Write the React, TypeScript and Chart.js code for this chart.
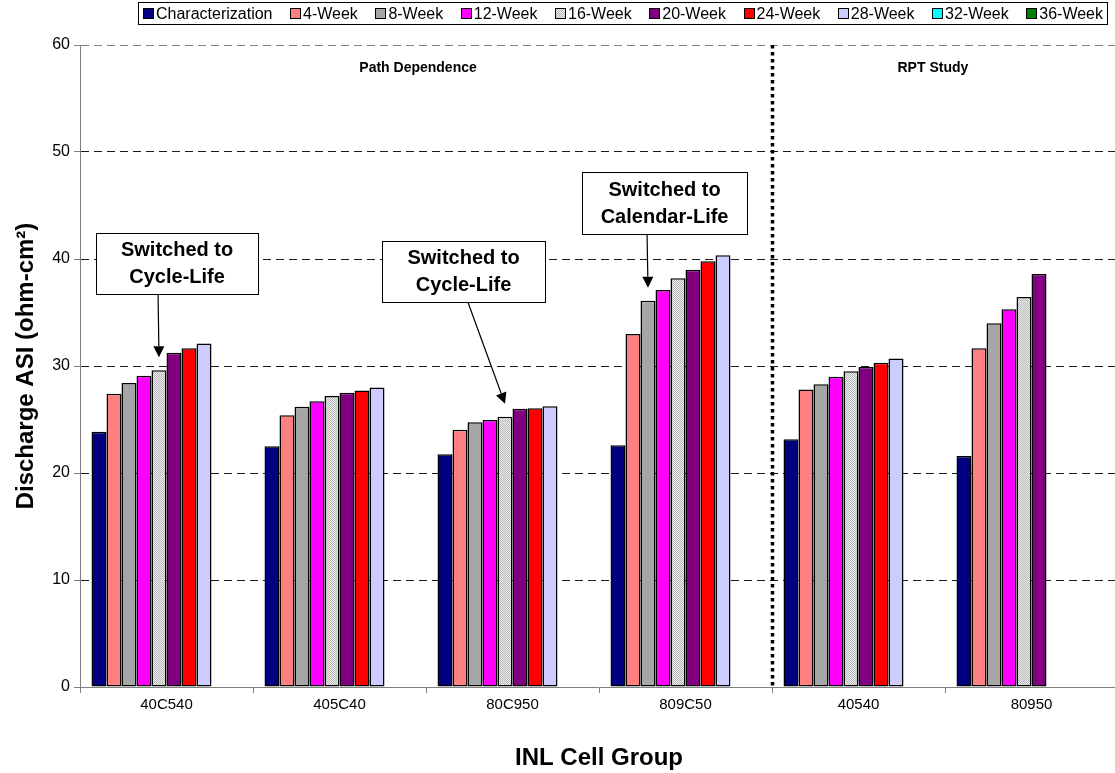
import React, { useEffect, useRef } from "react";
import { Chart, registerables } from "chart.js";

Chart.register(...registerables);

// ---------- data ----------
const categories = ["40C540", "405C40", "80C950", "809C50", "40540", "80950"];
const seriesNames = [
  "Characterization",
  "4-Week",
  "8-Week",
  "12-Week",
  "16-Week",
  "20-Week",
  "24-Week",
  "28-Week",
  "32-Week",
  "36-Week",
];
const characterization = [23.85, 22.5, 21.75, 22.6, 23.15, 21.6];
const week4 = [27.4, 25.4, 24.05, 33.0, 27.8, 31.65];
const week8 = [28.4, 26.2, 24.75, 36.1, 28.3, 34.0];
const week12 = [29.1, 26.7, 24.95, 37.1, 29.0, 35.3];
const week16 = [29.6, 27.2, 25.25, 38.2, 29.5, 36.45];
const week20 = [31.25, 27.5, 26.0, 39.0, 29.9, 38.6];
const week24 = [31.65, 27.7, 26.05, 39.8, 30.3, null];
const week28 = [32.1, 28.0, 26.25, 40.35, 30.7, null];
const week32 = [null, null, null, null, null, null];
const week36 = [null, null, null, null, null, null];
const seriesValues = [characterization, week4, week8, week12, week16, week20, week24, week28, week32, week36];
const yTicks = [0, 10, 20, 30, 40, 50, 60];
const regionLabels = ["Path Dependence", "RPT Study"];
const noteTexts = [
  ["Switched to", "Cycle-Life"],
  ["Switched to", "Cycle-Life"],
  ["Switched to", "Calendar-Life"],
];
// which bar each note points at: [series index, category index]
const noteTargets = [
  [4, 0],
  [4, 2],
  [2, 3],
];

// ---------- styles / layout ----------
const FONT = "Arial, 'Liberation Sans', Helvetica, sans-serif";
const seriesColors = [
  "#000080",
  "#FF8080",
  "#A6A6A6",
  "#FF00FF",
  "pattern",
  "#800080",
  "#FF0000",
  "#CCCCFF",
  "#00FFFF",
  "#008000",
];
const regionPos = [
  { cat: 1.454, val: 57.85 },
  { cat: 4.43, val: 57.85 },
];
const notePos = [
  { cat: 0.061, val: 39.58, w: 162, h: 61, startDx: -19 },
  { cat: 1.717, val: 38.83, w: 163, h: 61, startDx: 4.5 },
  { cat: 2.879, val: 45.23, w: 165, h: 62, startDx: -17.5 },
];

function makePattern(): CanvasPattern | string {
  const c = document.createElement("canvas");
  c.width = 2;
  c.height = 2;
  const g = c.getContext("2d");
  if (!g) return "#D4D4D4";
  g.fillStyle = "#EDEDED";
  g.fillRect(0, 0, 2, 2);
  g.fillStyle = "#B8B8B8";
  g.fillRect(0, 0, 1, 1);
  g.fillRect(1, 1, 1, 1);
  const p = g.createPattern(c, "repeat");
  return p || "#D4D4D4";
}

const overlayPlugin = {
  id: "overlay",
  afterDatasetsDraw(chart: any) {
    const { ctx, chartArea } = chart;
    const x = chart.scales.x;
    const y = chart.scales.y;
    ctx.save();

    // dotted separator between Path Dependence and RPT Study
    const sx = Math.round(x.getPixelForValue(3.5)) + 0.5;
    ctx.strokeStyle = "#000";
    ctx.lineWidth = 3.5;
    ctx.setLineDash([3.5, 3.5]);
    ctx.beginPath();
    ctx.moveTo(sx, chartArea.top);
    ctx.lineTo(sx, chartArea.bottom);
    ctx.stroke();
    ctx.setLineDash([]);

    // region labels
    ctx.fillStyle = "#000";
    ctx.font = `bold 14px ${FONT}`;
    ctx.textAlign = "center";
    ctx.textBaseline = "middle";
    regionLabels.forEach((t, i) => {
      ctx.fillText(t, x.getPixelForValue(regionPos[i].cat), y.getPixelForValue(regionPos[i].val));
    });

    // notes with arrows
    noteTexts.forEach((lines, i) => {
      const p = notePos[i];
      const cx = x.getPixelForValue(p.cat);
      const cy = y.getPixelForValue(p.val);
      const left = Math.round(cx - p.w / 2) + 0.5;
      const top = Math.round(cy - p.h / 2) + 0.5;
      ctx.fillStyle = "#fff";
      ctx.fillRect(left, top, p.w, p.h);
      ctx.strokeStyle = "#000";
      ctx.lineWidth = 1;
      ctx.strokeRect(left, top, p.w, p.h);
      ctx.fillStyle = "#000";
      ctx.font = `bold 20px ${FONT}`;
      ctx.textAlign = "center";
      ctx.textBaseline = "middle";
      ctx.fillText(lines[0], cx, cy - 13);
      ctx.fillText(lines[1], cx, cy + 14);

      const [ds, cat] = noteTargets[i];
      const bar = chart.getDatasetMeta(ds).data[cat];
      const tipX = bar.x;
      const tipY = bar.y - 13;
      const sX = cx + p.startDx;
      const sY = top + p.h;
      const ang = Math.atan2(tipY - sY, tipX - sX);
      const hl = 11;
      const hw = 5.5;
      const bx = tipX - hl * Math.cos(ang);
      const by = tipY - hl * Math.sin(ang);
      ctx.strokeStyle = "#000";
      ctx.lineWidth = 1.2;
      ctx.beginPath();
      ctx.moveTo(sX, sY);
      ctx.lineTo(bx, by);
      ctx.stroke();
      ctx.beginPath();
      ctx.moveTo(tipX, tipY);
      ctx.lineTo(bx + hw * Math.sin(ang), by - hw * Math.cos(ang));
      ctx.lineTo(bx - hw * Math.sin(ang), by + hw * Math.cos(ang));
      ctx.closePath();
      ctx.fill();
    });
    ctx.restore();
  },
  afterDraw(chart: any) {
    // legend with frame
    const { ctx } = chart;
    const datasets = chart.data.datasets;
    ctx.save();
    ctx.font = `16px ${FONT}`;
    ctx.textBaseline = "middle";
    ctx.textAlign = "left";
    const sq = 10;
    const gap = 3;
    const startX = 143;
    const endX = 1103;
    const widths = datasets.map((d: any) => ctx.measureText(d.label).width);
    const used = widths.reduce((a: number, b: number) => a + b + sq + gap, 0);
    const spacing = (endX - startX - used) / (datasets.length - 1);
    ctx.fillStyle = "#fff";
    ctx.fillRect(138.5, 2.5, 969, 22);
    ctx.strokeStyle = "#000";
    ctx.lineWidth = 1;
    ctx.strokeRect(138.5, 2.5, 969, 22);
    let cx = startX;
    const cy = 13.5;
    datasets.forEach((d: any, i: number) => {
      ctx.fillStyle = d.backgroundColor;
      ctx.fillRect(Math.round(cx) + 0.5, cy - sq / 2, sq, sq);
      ctx.strokeStyle = "#000";
      ctx.strokeRect(Math.round(cx) + 0.5, cy - sq / 2, sq, sq);
      ctx.fillStyle = "#000";
      ctx.fillText(d.label, cx + sq + gap, cy + 1);
      cx += sq + gap + widths[i] + spacing;
    });
    ctx.restore();
  },
};

export default function App() {
  const ref = useRef<HTMLCanvasElement>(null);
  useEffect(() => {
    const canvas = ref.current;
    if (!canvas) return;
    const pattern = makePattern();
    const datasets = seriesNames.map((name, i) => ({
      label: name,
      data: seriesValues[i],
      backgroundColor: seriesColors[i] === "pattern" ? pattern : seriesColors[i],
      borderColor: "#000",
      borderWidth: 1.5,
      borderSkipped: false as const,
      categoryPercentage: 0.867,
      barPercentage: 1,
    }));
    const chart = new Chart(canvas, {
      type: "bar",
      data: { labels: categories, datasets: datasets as any },
      options: {
        responsive: false,
        animation: false,
        devicePixelRatio: 1,
        layout: { padding: { top: 45, right: 2, left: 0, bottom: 0 } },
        plugins: { legend: { display: false }, tooltip: { enabled: false } },
        scales: {
          x: {
            afterFit: (s: any) => {
              s.height = 86;
            },
            grid: {
              display: true,
              drawOnChartArea: false,
              drawTicks: true,
              tickLength: 6,
              tickColor: "#808080",
              offset: true,
            },
            border: { color: "#808080", width: 1 },
            ticks: { font: { family: FONT, size: 15 }, color: "#000", padding: 3 },
            title: {
              display: true,
              text: "INL Cell Group",
              font: { family: FONT, size: 24, weight: "bold" },
              color: "#000",
              padding: { top: 0, bottom: 0 },
            },
          },
          y: {
            min: 0,
            max: 60,
            afterFit: (s: any) => {
              s.width = 80;
            },
            afterBuildTicks: (s: any) => {
              s.ticks = yTicks.map((v) => ({ value: v }));
            },
            grid: {
              color: (c: any) =>
                c.tick && c.tick.value === 0 ? "rgba(0,0,0,0)" : c.tick && c.tick.value === 60 ? "#808080" : "#1a1a1a",
              lineWidth: 1,
              tickLength: 6,
              tickColor: "#808080",
              tickBorderDash: [],
            },
            border: { color: "#808080", width: 1, dash: [8, 5] },
            ticks: { font: { family: FONT, size: 16 }, color: "#000", padding: 4 },
            title: {
              display: true,
              text: "Discharge ASI (ohm-cm²)",
              font: { family: FONT, size: 24, weight: "bold" },
              color: "#000",
              padding: { top: 12, bottom: 0 },
            },
          },
        },
      },
      plugins: [overlayPlugin],
    });
    return () => chart.destroy();
  }, []);
  return (
    <div
      style={{
        position: "absolute",
        left: 0,
        top: 0,
        width: 1115,
        height: 773,
        overflow: "hidden",
        background: "#fff",
      }}
    >
      <canvas ref={ref} width={1120} height={773} style={{ display: "block" }} />
    </div>
  );
}
